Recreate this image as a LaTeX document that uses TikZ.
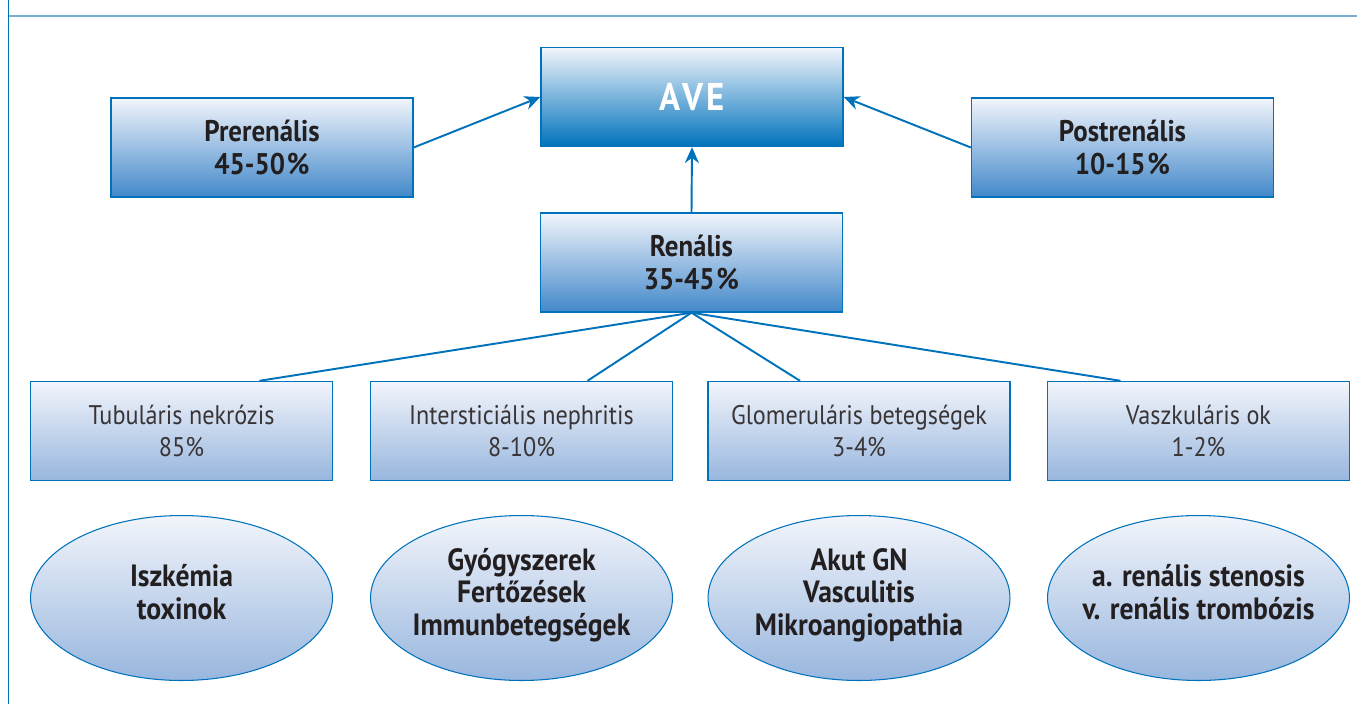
\documentclass[tikz,border=0pt]{standalone}
\usepackage{fontspec}
\setmainfont{PT Sans}[FakeStretch=0.9]
\usetikzlibrary{arrows.meta,shapes.geometric}
\definecolor{aveblue}{RGB}{0,114,188}
\definecolor{avepale}{RGB}{242,245,251}
\definecolor{avemid}{RGB}{66,136,202}
\definecolor{avelight}{RGB}{152,182,222}
\definecolor{aveframe}{RGB}{120,175,215}
\definecolor{aveink}{RGB}{35,31,32}

\begin{document}
\begin{tikzpicture}[x=0.02cm, y=-0.02cm,
  mainbox/.style={draw=aveblue, line width=0.8pt, top color=avepale, bottom color=avemid,
    minimum width=6.04cm, minimum height=1.98cm, inner sep=0pt, align=center,
    font=\fontsize{17}{18.5}\selectfont\bfseries, text=aveink},
  subbox/.style={mainbox, bottom color=avelight, font=\fontsize{15.3}{18}\selectfont, text=aveink!90},
  causebubble/.style={ellipse, draw=aveblue, line width=0.6pt, top color=avepale, bottom color=avelight,
    minimum width=6.04cm, minimum height=3.3cm, inner xsep=-0.3cm, inner ysep=0pt, align=center,
    font=\fontsize{17.5}{18.5}\selectfont\bfseries, text=aveink,
    execute at end node={\rule[-7pt]{0pt}{0pt}}},
  arr/.style={-{Stealth[length=9pt,width=8pt]}, draw=aveblue, line width=1.1pt},
  link/.style={draw=aveblue, line width=1.1pt}]

  \useasboundingbox (0,0) rectangle (1357,704);

  %% frame
  \draw[aveframe, line width=0.8pt] (8,16) -- (1357,16);
  \draw[aveblue, line width=0.5pt] (8,0) -- (8,704);

  %% top row
  \node[mainbox, bottom color=aveblue, text=white, font=\fontsize{22}{26}\selectfont\bfseries] (ave) at (692,97) {A\kern0.07em V\kern0.07em E};
  \node[mainbox] (pre) at (262,147.5) {Prerenális\\45-50\kern0.06em\%};
  \node[mainbox] (post) at (1122.5,147.5) {Postrenális\\10-15\kern0.06em\%};
  \node[mainbox] (ren) at (691.5,262.5) {Renális\\35-45\kern0.06em\%};

  \draw[arr] (pre.east) -- (ave.west);
  \draw[arr] (post.west) -- (ave.east);
  \draw[arr] (ren.north) -- (ave.south);

  %% renal subgroups
  \node[subbox] (tub) at (181.5,431) {Tubuláris nekrózis\\85\%};
  \node[subbox] (int) at (521.5,431) {Intersticiális nephritis\\8-10\%};
  \node[subbox] (glom) at (859,431) {Glomeruláris betegségek\\3-4\%};
  \node[subbox] (vasz) at (1198.5,431) {Vaszkuláris ok\\1-2\%};

  \draw[link] (ren.south) -- ([xshift=1.56cm]tub.north);
  \draw[link] (ren.south) -- ([xshift=1.32cm]int.north);
  \draw[link] (ren.south) -- ([xshift=-1.18cm]glom.north);
  \draw[link] (ren.south) -- ([xshift=-1.56cm]vasz.north);

  %% causes
  \node[causebubble] (tubcause) at (181.5,598) {Iszkémia\\toxinok};
  \node[causebubble] (intcause) at (521.5,598) {Gyógyszerek\\Fertőzések\\Immunbetegségek};
  \node[causebubble] (glomcause) at (859,598) {Akut GN\\Vasculitis\\Mikroangiopathia};
  \node[causebubble] (vaszcause) at (1198.5,598) {a. renális stenosis\\v. renális trombózis};

\end{tikzpicture}
\end{document}
